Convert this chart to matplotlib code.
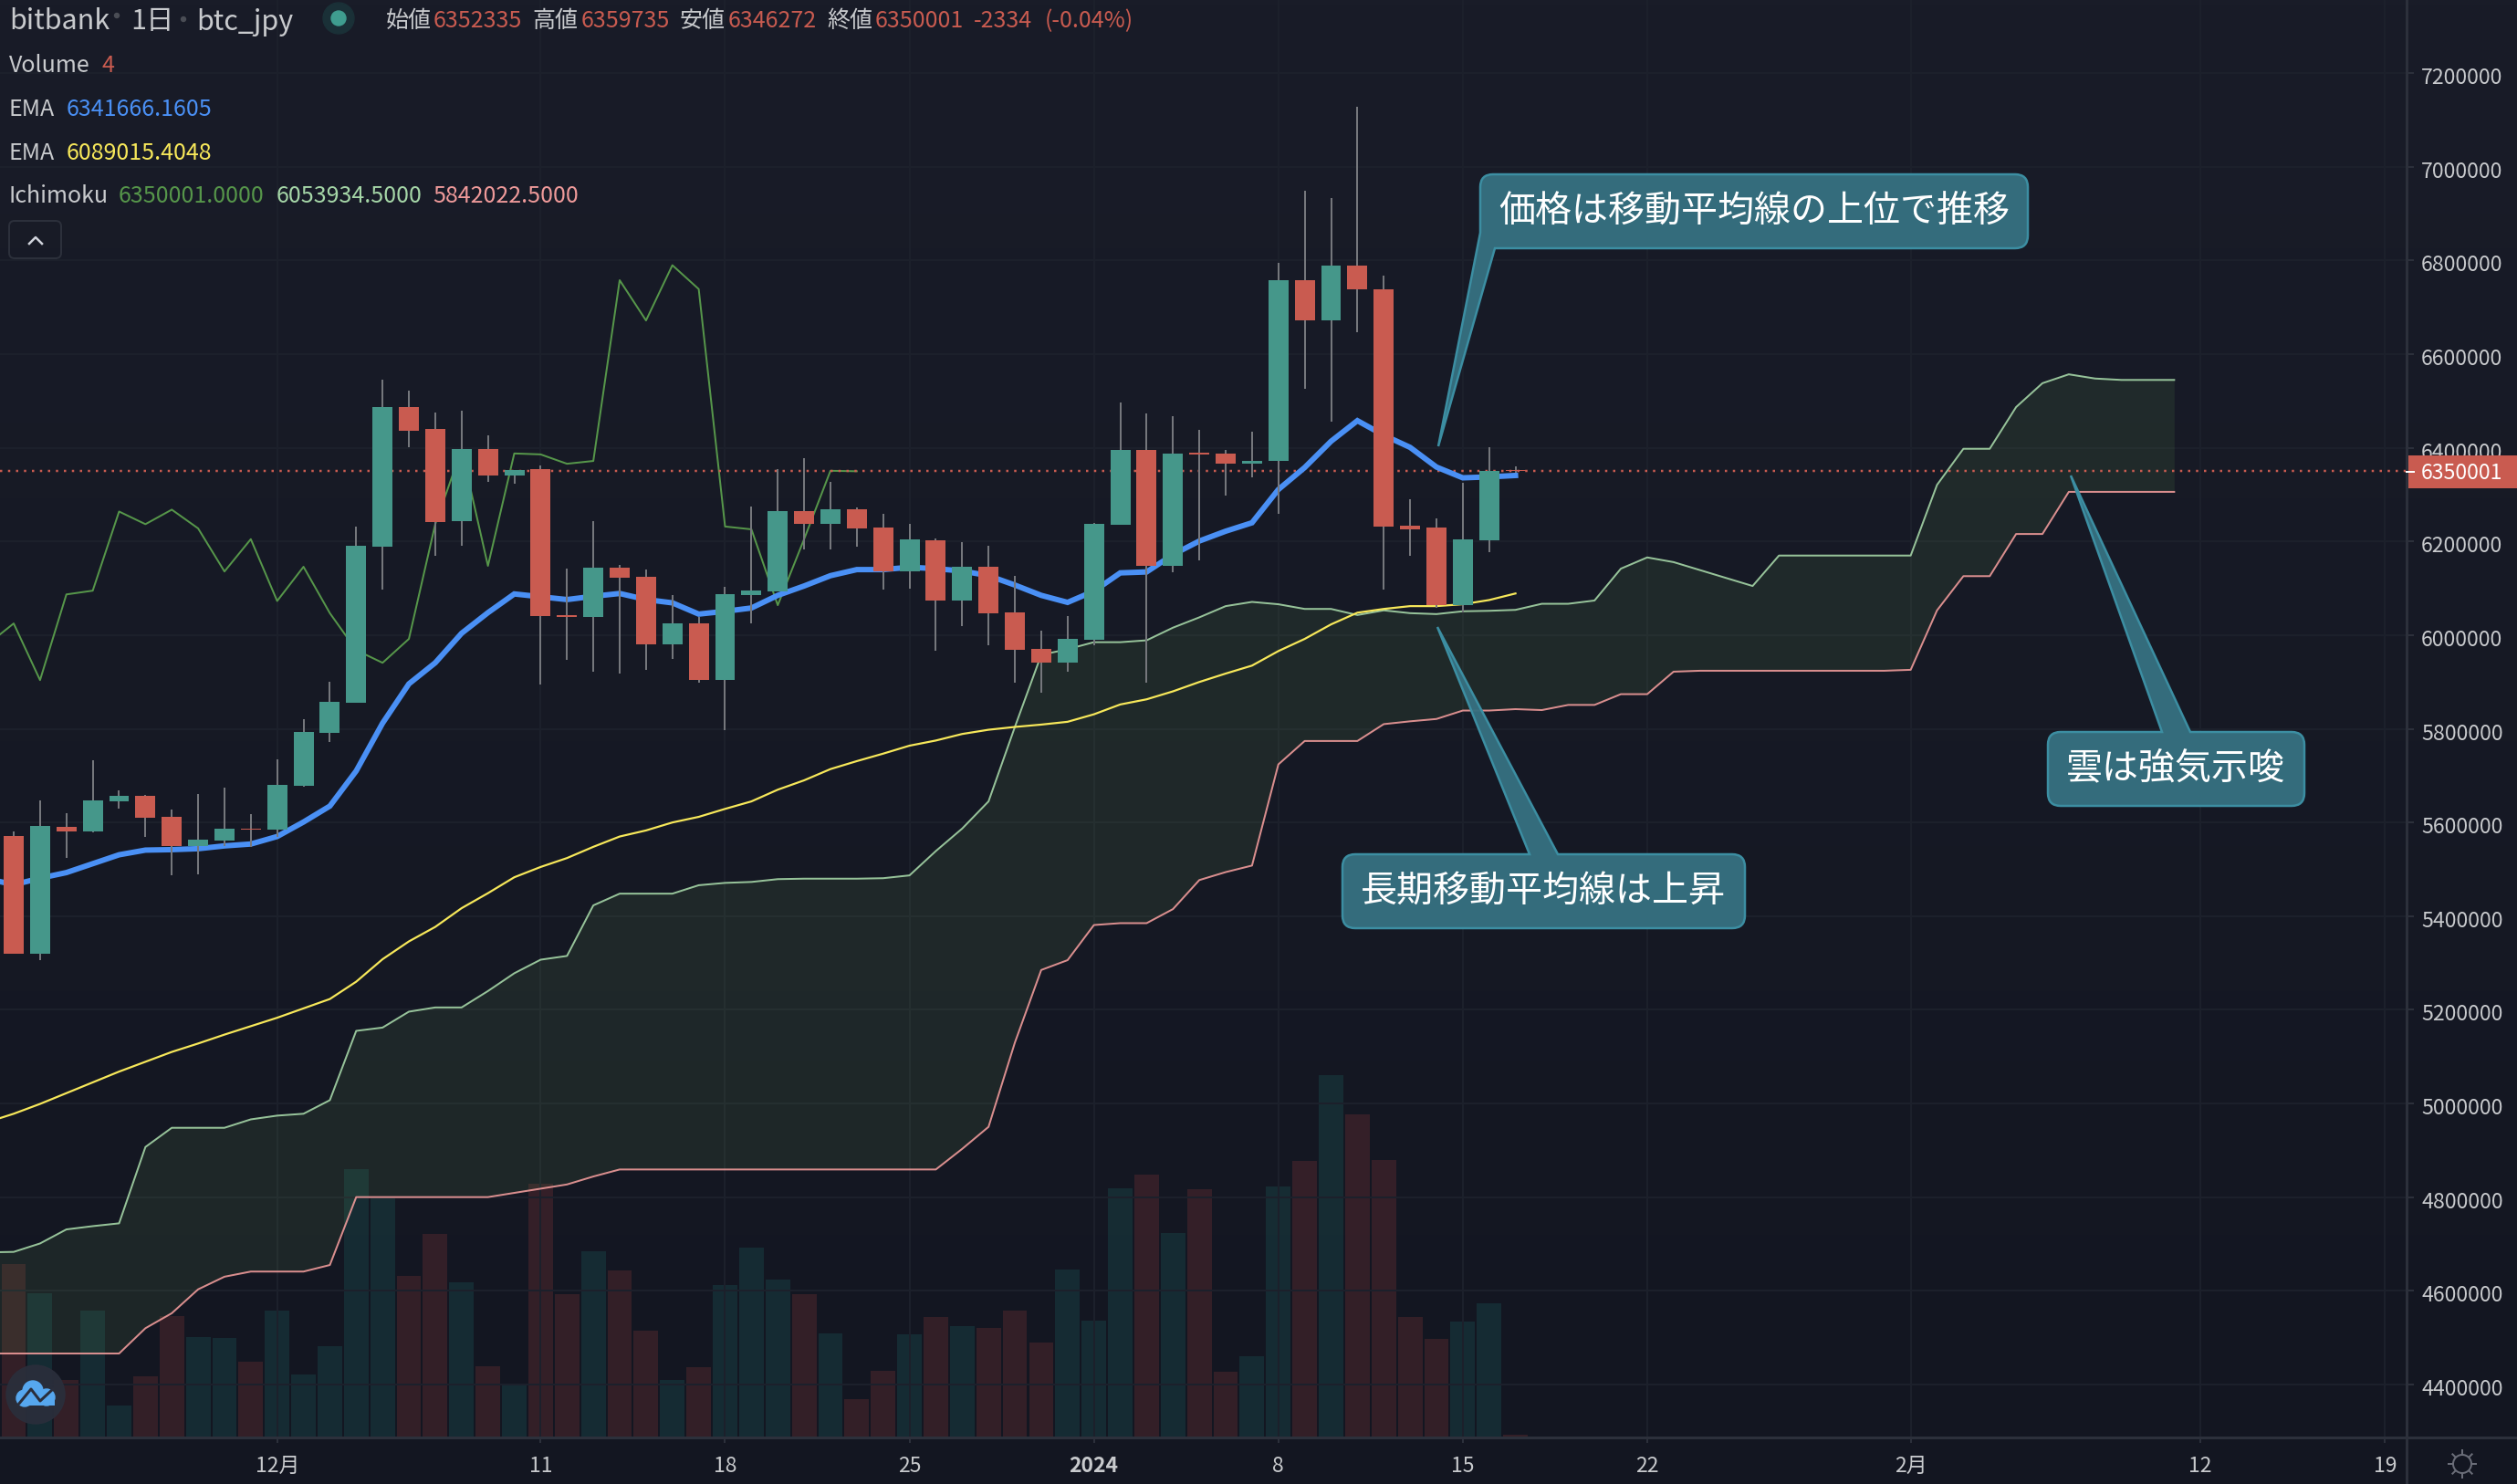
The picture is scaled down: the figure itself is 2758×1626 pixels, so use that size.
import numpy as np
import matplotlib
matplotlib.use("Agg")
import matplotlib.pyplot as plt
from matplotlib.path import Path
from matplotlib.patches import PathPatch, FancyBboxPatch, Circle
from matplotlib.transforms import ScaledTranslation

plt.rcParams['font.family'] = ['Noto Sans CJK JP', 'DejaVu Sans']

# daily candles, thousand yen, from 2023-11-21
opens = [5571, 5320, 5590, 5580, 5645, 5657, 5612, 5549, 5561, 5586,
         5584, 5679, 5791, 5856, 6189, 6487, 6440, 6243, 6398, 6341,
         6355, 6043, 6039, 6144, 6124, 5980, 6025, 5904, 6085, 6093,
         6264, 6237, 6268, 6230, 6136, 6203, 6073, 6146, 6049, 5970,
         5941, 5990, 6236, 6396, 6148, 6390, 6388, 6366, 6372, 6758,
         6672, 6790, 6739, 6234, 6230, 6064, 6203, 6352]
highs = [5580, 5647, 5620, 5732, 5669, 5659, 5627, 5661, 5675, 5618,
         5734, 5821, 5900, 6232, 6546, 6522, 6475, 6479, 6426, 6353,
         6362, 6142, 6243, 6150, 6140, 6085, 6038, 6103, 6274, 6354,
         6378, 6327, 6272, 6259, 6238, 6207, 6199, 6191, 6126, 6010,
         6041, 6239, 6497, 6473, 6467, 6438, 6396, 6434, 6796, 6949,
         6934, 7129, 6768, 6290, 6250, 6325, 6402, 6360]
lows = [5319, 5307, 5525, 5578, 5629, 5569, 5487, 5489, 5549, 5548,
        5570, 5677, 5772, 5856, 6097, 6402, 6169, 6191, 6327, 6323,
        5894, 5947, 5921, 5918, 5925, 5949, 5898, 5797, 6025, 6093,
        6183, 6183, 6189, 6097, 6099, 5967, 6019, 5978, 5898, 5878,
        5921, 5978, 6236, 5898, 6134, 6160, 6298, 6337, 6260, 6526,
        6455, 6647, 6097, 6169, 6058, 6049, 6177, 6346]
closes = [5319, 5592, 5580, 5647, 5657, 5610, 5549, 5563, 5586, 5584,
          5681, 5793, 5858, 6191, 6487, 6436, 6241, 6398, 6341, 6353,
          6041, 6039, 6144, 6122, 5980, 6025, 5904, 6087, 6095, 6264,
          6237, 6268, 6228, 6136, 6205, 6073, 6146, 6047, 5968, 5941,
          5992, 6237, 6396, 6148, 6388, 6386, 6366, 6372, 6758, 6672,
          6790, 6739, 6232, 6226, 6064, 6205, 6351, 6350]
volumes = [228, 190, 76, 167, 42, 80, 159, 132, 131, 99,
           167, 83, 120, 353, 316, 212, 268, 204, 94, 69,
           333, 188, 245, 219, 140, 76, 92, 200, 250, 208,
           188, 137, 50, 87, 135, 158, 146, 144, 167, 125,
           221, 153, 328, 346, 269, 326, 86, 107, 330, 364,
           476, 424, 365, 158, 130, 152, 176, 4]

# indicators start one bar left of the first candle
ema_short = [5480, 5467, 5481, 5493, 5512, 5531, 5541, 5542, 5544, 5550,
             5554, 5570, 5601, 5635, 5710, 5812, 5896, 5941, 6004, 6048,
             6088, 6082, 6076, 6083, 6089, 6076, 6069, 6045, 6051, 6058,
             6085, 6105, 6127, 6140, 6140, 6145, 6142, 6137, 6127, 6107,
             6085, 6070, 6094, 6133, 6135, 6172, 6201, 6222, 6240, 6311,
             6358, 6414, 6458, 6427, 6401, 6359, 6336, 6338, 6341]
ema_long = [4960, 4978, 4999, 5022, 5045, 5068, 5089, 5110, 5128, 5147,
            5165, 5183, 5203, 5223, 5260, 5308, 5346, 5377, 5417, 5449,
            5483, 5505, 5524, 5548, 5570, 5583, 5600, 5612, 5629, 5645,
            5670, 5690, 5714, 5731, 5747, 5764, 5775, 5789, 5798, 5804,
            5809, 5815, 5831, 5852, 5863, 5880, 5900, 5918, 5935, 5966,
            5992, 6023, 6048, 6056, 6062, 6062, 6066, 6075, 6089]
lead1 = [4682, 4683, 4701, 4731, 4738, 4744, 4907, 4948, 4948, 4948,
         4966, 4974, 4978, 5007, 5155, 5162, 5196, 5205, 5205, 5240,
         5278, 5307, 5315, 5423, 5448, 5448, 5448, 5466, 5471, 5473,
         5479, 5480, 5480, 5480, 5481, 5487, 5539, 5587, 5645, 5804,
         5958, 5970, 5985, 5985, 5989, 6016, 6038, 6062, 6071, 6066,
         6056, 6056, 6043, 6053, 6047, 6045, 6051, 6052, 6054, 6067,
         6067, 6074, 6142, 6166, 6156, 6139, 6122, 6105, 6170, 6170,
         6170, 6170, 6170, 6170, 6321, 6398, 6398, 6487, 6538, 6557,
         6548, 6545, 6545, 6545]
lead2 = [4466, 4466, 4466, 4466, 4466, 4466, 4520, 4552, 4603, 4630,
         4641, 4641, 4641, 4655, 4800, 4800, 4800, 4800, 4800, 4800,
         4809, 4818, 4827, 4844, 4859, 4859, 4859, 4859, 4859, 4859,
         4859, 4859, 4859, 4859, 4859, 4859, 4859, 4903, 4950, 5130,
         5285, 5306, 5381, 5385, 5385, 5415, 5477, 5494, 5508, 5724,
         5774, 5774, 5774, 5810, 5816, 5821, 5839, 5839, 5842, 5840,
         5851, 5851, 5874, 5874, 5922, 5924, 5924, 5924, 5924, 5924,
         5924, 5924, 5924, 5926, 6053, 6126, 6126, 6216, 6216, 6306,
         6306, 6306, 6306, 6306]
last_price = 6350001

price_ticks = [4400, 4600, 4800, 5000, 5200, 5400, 5600, 5800, 6000, 6200,
               6400, 6600, 6800, 7000, 7200]
date_ticks = [10, 20, 27, 34, 41, 48, 55, 62, 72, 83, 90]
date_labels = ['12月', '11', '18', '25', '2024', '8', '15', '22', '2月', '12', '19']

GREEN = '#45978a'
RED = '#c95b50'
VOL_GREEN = '#26a69a'
VOL_RED = '#ef5350'
GRID = '#1c202b'
AXIS = '#2c303b'
LABEL = '#c8cacd'
BUBBLE_FACE = (0.21, 0.44, 0.50, 0.96)
BUBBLE_EDGE = '#3c8ea2'

W, H = 2758, 1626
PANE_R, PANE_B = 2637, 1575
PX = 0.72  # one pixel in points at dpi 100

fig = plt.figure(figsize=(W / 100, H / 100), dpi=100)

# very slight vertical gradient behind everything
bg = fig.add_axes([0, 0, 1, 1], zorder=0)
grad = np.linspace(0, 1, 256).reshape(-1, 1)
c_top = np.array([0x19, 0x1c, 0x28]) / 255
c_bot = np.array([0x13, 0x16, 0x21]) / 255
bg.imshow(c_top + (c_bot - c_top) * grad[..., None], aspect='auto')
bg.axis('off')

pane = [0, (H - PANE_B) / H, PANE_R / W, PANE_B / H]
x_lim = (-15 / 28.87, (PANE_R - 15) / 28.87)
y_lim = (4286745, 7356335)

ax_vol = fig.add_axes(pane, zorder=1)
ax_vol.set_xlim(x_lim)
ax_vol.set_ylim(0, 1889)
ax_vol.axis('off')

ax = fig.add_axes(pane, zorder=2)
ax.patch.set_visible(False)
ax.set_xlim(x_lim)
ax.set_ylim(y_lim)

x = np.arange(len(closes))
x_ind = np.arange(-1, len(ema_short) - 1)
x_cloud = np.arange(-1, len(lead1) - 1)
o = np.array(opens) * 1000
h = np.array(highs) * 1000
l = np.array(lows) * 1000
c = np.array(closes) * 1000
up = c >= o
colors = np.where(up, GREEN, RED)

ax_vol.bar(x, volumes, width=0.93,
           color=[VOL_GREEN if u else VOL_RED for u in up], alpha=0.15, linewidth=0)

ax.set_axisbelow(True)
ax.grid(True, color=GRID, linewidth=2 * PX)
for s in ax.spines.values():
    s.set_visible(False)

ax.fill_between(x_cloud, np.array(lead1) * 1000, np.array(lead2) * 1000,
                color='#78b85e', alpha=0.10, linewidth=0, zorder=1.5)
ax.plot(x_cloud, np.array(lead1) * 1000, color='#a5d6a7', lw=2 * PX, alpha=0.9, zorder=2)
ax.plot(x_cloud, np.array(lead2) * 1000, color='#ef9a9a', lw=2 * PX, alpha=0.9, zorder=2)

# lagging span is the close moved back 25 bars
ax.plot(np.arange(-1, len(closes) - 25), c[24:], color='#56964a', lw=2 * PX, zorder=2)

ax.axhline(last_price, color=RED, lw=2.5 * PX, ls=(0, (1, 2.5)), zorder=2)
ax.plot(x_ind, np.array(ema_long) * 1000, color='#f7e85a', lw=2.2 * PX, zorder=2.2)
ax.plot(x_ind, np.array(ema_short) * 1000, color='#4a90f5', lw=6 * PX, zorder=2.3,
        solid_joinstyle='miter')

ax.vlines(x, l, h, color='#75777c', lw=2 * PX, zorder=3)
ax.bar(x, np.maximum(np.abs(c - o), 2000), bottom=np.minimum(o, c), width=0.76,
       color=colors, linewidth=0, zorder=3.1)

ax.set_yticks(np.array(price_ticks) * 1000)
ax.set_yticklabels([str(p * 1000) for p in price_ticks])
ax.set_xticks(date_ticks)
ax.set_xticklabels(date_labels)
ax.tick_params(axis='y', left=False, labelleft=False, right=True, labelright=True,
               length=8 * PX, width=2 * PX, color=AXIS, pad=8 * PX,
               labelsize=16.7, labelcolor=LABEL)
ax.tick_params(axis='x', length=6 * PX, width=2 * PX, color=AXIS, pad=14 * PX,
               labelsize=16.5, labelcolor=LABEL)
for t in ax.get_yticklabels():
    t.set_transform(t.get_transform() + ScaledTranslation(0, -3 / 100, fig.dpi_scale_trans))
for t in ax.get_xticklabels():
    if t.get_text() == '2024':
        t.set_fontweight('bold')

# everything below is page furniture in pixel coordinates
ui = fig.add_axes([0, 0, 1, 1], zorder=5)
ui.set_xlim(0, W)
ui.set_ylim(H, 0)
ui.axis('off')

ui.plot([PANE_R, PANE_R], [0, H], color=AXIS, lw=3 * PX)
ui.plot([0, W], [PANE_B, PANE_B], color=AXIS, lw=3 * PX)


def txt(px, py, s, color=LABEL, size=18, **kw):
    ui.text(px, py, s, color=color, fontsize=size, va='center', ha=kw.pop('ha', 'left'), **kw)


# header
txt(10, 24, 'bitbank', size=22)
txt(143, 24, '1日', size=22)
txt(215, 24, 'btc_jpy', size=22)
ui.add_patch(Circle((128, 17), 2.5, color='#4a4d55'))
ui.add_patch(Circle((201, 21), 2.5, color='#4a4d55'))
ui.add_patch(Circle((371, 20), 17, color='#1a3037'))
ui.add_patch(Circle((371, 20), 8, color='#3f9d8f'))
for px, name, px_v, val in [(423, '始値', 475, '6352335'), (583, '高値', 637, '6359735'),
                            (745, '安値', 798, '6346272'), (906, '終値', 959, '6350001')]:
    txt(px, 23, name)
    txt(px_v, 23, val, color=RED)
txt(1067, 23, '-2334', color=RED)
txt(1145, 23, '(-0.04%)', color=RED)

# legend rows
txt(10, 72, 'Volume')
txt(112, 72, '4', color=RED)
txt(10, 120, 'EMA')
txt(73, 120, '6341666.1605', color='#4a90f5')
txt(10, 168, 'EMA')
txt(73, 168, '6089015.4048', color='#f7e85a')
txt(10, 215, 'Ichimoku')
txt(130, 215, '6350001.0000', color='#56964a')
txt(303, 215, '6053934.5000', color='#a5d6a7')
txt(474, 215, '5842022.5000', color='#ef9a9a')

ui.add_patch(FancyBboxPatch((10, 242), 57, 41, boxstyle='round,pad=0,rounding_size=6',
                            fc='none', ec=AXIS, lw=2 * PX))
ui.plot([32, 39, 46], [267, 260, 267], color='#d1d4dc', lw=2.5 * PX)

# last price tag
ui.fill_between([PANE_R, W], [499, 499], [535, 535], color=RED, linewidth=0)
ui.plot([PANE_R, PANE_R + 8], [517, 517], color='white', lw=2 * PX)
txt(2653, 518, '6350001', color='white', size=16.7)


def bubble(x0, y0, x1, y1, tip, top_base=None, corner=None, r=14):
    verts = [(x0 + r, y0)]
    codes = [Path.MOVETO]
    if top_base:
        verts += [(top_base[0], y0), tip, (top_base[1], y0)]
        codes += [Path.LINETO] * 3
    verts += [(x1 - r, y0), (x1, y0), (x1, y0 + r), (x1, y1 - r), (x1, y1), (x1 - r, y1)]
    codes += [Path.LINETO, Path.CURVE3, Path.CURVE3, Path.LINETO, Path.CURVE3, Path.CURVE3]
    if corner:
        verts += [(corner[0], y1), tip, (x0, corner[1])]
        codes += [Path.LINETO] * 3
    else:
        verts += [(x0 + r, y1), (x0, y1), (x0, y1 - r)]
        codes += [Path.LINETO, Path.CURVE3, Path.CURVE3]
    verts += [(x0, y0 + r), (x0, y0), (x0 + r, y0), (x0 + r, y0)]
    codes += [Path.LINETO, Path.CURVE3, Path.CURVE3, Path.CLOSEPOLY]
    ui.add_patch(PathPatch(Path(verts, codes), fc=BUBBLE_FACE, ec=BUBBLE_EDGE, lw=2.5 * PX))


bubble(1622, 191, 2222, 272, (1576, 489), corner=(1638, 255))
txt(1922, 232, '価格は移動平均線の上位で推移', color='white', size=28.8, ha='center')
bubble(1471, 936, 1912, 1017, (1575, 687), top_base=(1676, 1707))
txt(1691, 977, '長期移動平均線は上昇', color='white', size=28.8, ha='center')
bubble(2244, 802, 2525, 883, (2269, 521), top_base=(2369, 2400))
txt(2384, 842, '雲は強気示唆', color='white', size=28.8, ha='center')

# logo bottom left
ui.add_patch(Circle((39, 1528), 32, color='#2a2e3b', alpha=0.95))
for cx, cy, rad in [(27, 1532, 9), (36, 1524, 11), (51, 1531, 9)]:
    ui.add_patch(Circle((cx, cy), rad, color='#56a7ee'))
ui.fill_between([19, 60], [1530, 1530], [1540, 1540], color='#56a7ee', linewidth=0)
ui.plot([20, 34, 44, 58], [1539, 1522, 1535, 1522], color='#2a2e3b', lw=3 * PX)

# settings icon
ui.add_patch(Circle((2698, 1604), 10, fc='none', ec='#6a6d78', lw=2 * PX))
for ang in np.deg2rad(np.arange(0, 360, 45)):
    ui.plot([2698 + 11 * np.cos(ang), 2698 + 15 * np.cos(ang)],
            [1604 + 11 * np.sin(ang), 1604 + 15 * np.sin(ang)], color='#6a6d78', lw=2 * PX)

fig.savefig('out.png', dpi=100)
